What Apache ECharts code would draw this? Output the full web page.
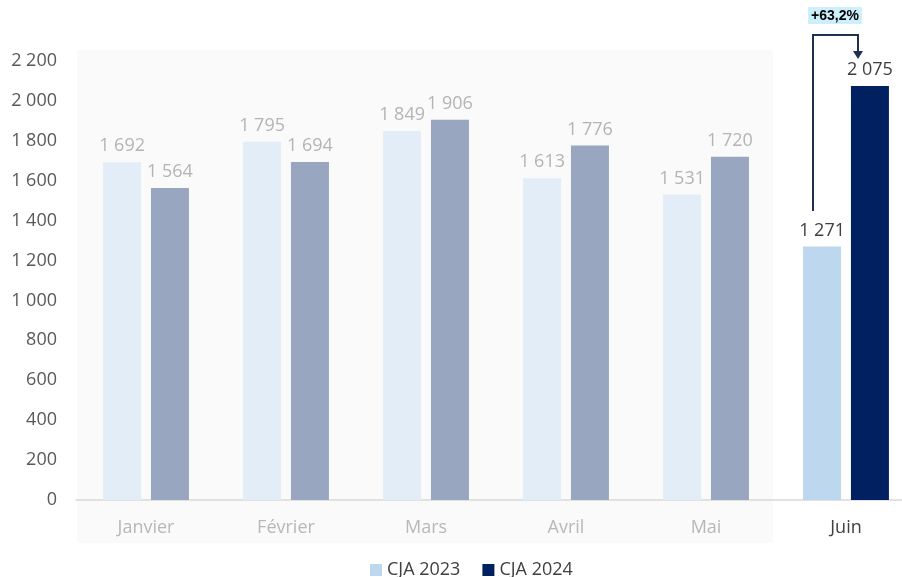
<!DOCTYPE html>
<html>
<head>
<meta charset="utf-8">
<script src="https://cdn.jsdelivr.net/npm/echarts@6/dist/echarts.min.js"></script>
<style>
  html, body { margin: 0; padding: 0; background: #fff; }
  #chart { width: 902px; height: 577px; }
</style>
</head>
<body>
<div id="chart"></div>
<script>
// données
const mois = ['Janvier', 'Février', 'Mars', 'Avril', 'Mai', 'Juin']
const cja2023 = [1692, 1795, 1849, 1613, 1531, 1271]
const cja2024 = [1564, 1694, 1906, 1776, 1720, 2075]
const yTicks = [0, 200, 400, 600, 800, 1000, 1200, 1400, 1600, 1800, 2000, 2200]
const evolution = '+63,2%'
const moisCourant = 5 // Juin mis en avant

const fmt = v => String(v).replace(/\B(?=(\d{3})+(?!\d))/g, ' ')

const font = '"Open Sans", sans-serif'

function makeData(values, vif, pale) {
    return values.map((v, i) => {
        const on = i === moisCourant
        return {
            value: v,
            itemStyle: { color: on ? vif : pale },
            label: { color: on ? '#404040' : '#b4b4b4' }
        }
    })
}

const chart = echarts.init(document.getElementById('chart'))
const opt = {
    animation: false,
    textStyle: { fontFamily: font },
    grid: { left: 76, top: 61, width: 840, height: 439, outerBoundsMode: 'none', containLabel: false },
    legend: {
        top: 556,
        left: 365,
        itemWidth: 12,
        itemHeight: 12,
        itemGap: 22,
        icon: 'rect',
        textStyle: { color: '#404040', fontSize: 18, fontFamily: font },
        data: ['CJA 2023', 'CJA 2024']
    },
    xAxis: {
        type: 'category',
        data: mois,
        axisTick: { show: false },
        axisLine: { lineStyle: { color: '#d9d9d9', width: 1.5 } },
        axisLabel: {
            fontSize: 18,
            fontFamily: font,
            margin: 19,
            color: (v, i) => i === moisCourant ? '#404040' : '#b8b8b8'
        }
    },
    yAxis: {
        type: 'value',
        min: yTicks[0],
        max: yTicks[yTicks.length - 1],
        interval: 200,
        splitLine: { show: false },
        axisLine: { show: false },
        axisLabel: { fontSize: 18, fontFamily: font, color: '#595959', margin: 19, formatter: fmt }
    },
    series: [
        {
            name: 'CJA 2023',
            type: 'bar',
            barWidth: 38,
            barGap: '26%',
            itemStyle: { color: '#bdd7ee' },
            data: makeData(cja2023, '#bdd7ee', '#e3edf7'),
            label: { show: true, position: 'top', distance: 7, fontSize: 18, fontFamily: font, formatter: p => fmt(p.value) }
        },
        {
            name: 'CJA 2024',
            type: 'bar',
            barWidth: 38,
            itemStyle: { color: '#002060' },
            data: makeData(cja2024, '#002060', '#98a6bf'),
            label: { show: true, position: 'top', distance: 7, fontSize: 18, fontFamily: font, formatter: p => fmt(p.value) }
        }
    ],
    graphic: [
        // fond grisé des mois précédents
        { type: 'rect', z: -1, shape: { x: 77, y: 50, width: 696, height: 493 }, style: { fill: '#fafafa' }, silent: true },
        // flèche d'évolution
        { type: 'polyline', z: 10, shape: { points: [[813, 211], [813, 35], [858, 35], [858, 52]] }, style: { stroke: '#1f3050', lineWidth: 2, fill: null } },
        { type: 'polygon', z: 10, shape: { points: [[853, 51], [863, 51], [858, 59]] }, style: { fill: '#1f3050' } },
        {
            type: 'text', z: 10, left: 808, top: 7,
            style: {
                text: evolution, font: 'bold 14px "Liberation Sans", Arial, sans-serif', fill: '#000',
                backgroundColor: '#cdeefb', padding: [2, 3, 1, 3]
            }
        }
    ]
}
chart.setOption(opt)
</script>
</body>
</html>
